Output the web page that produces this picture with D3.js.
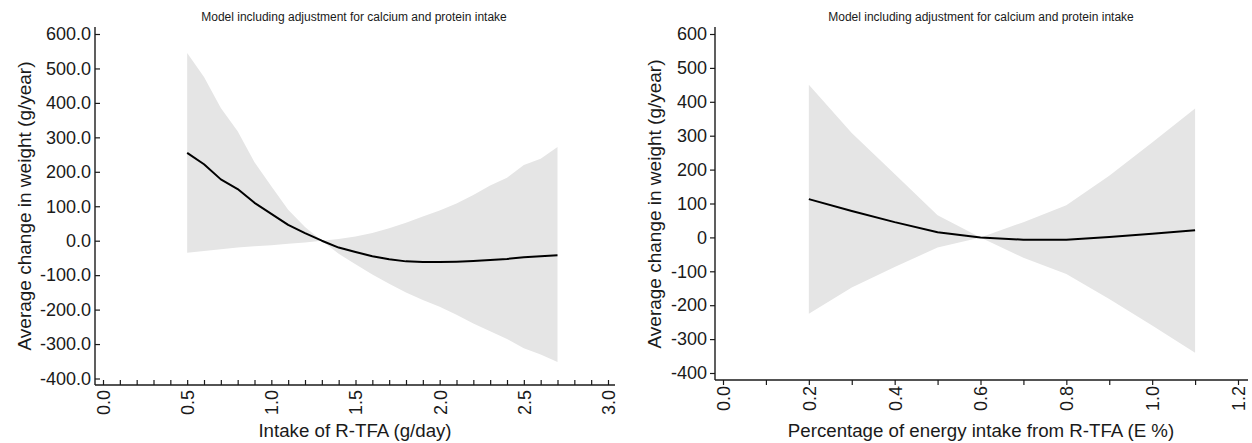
<!DOCTYPE html>
<html>
<head>
<meta charset="utf-8">
<script src="https://cdn.jsdelivr.net/npm/d3@7"></script>
<style>
  html, body { margin: 0; padding: 0; background: #fff; }
  svg { display: block; font-family: "Liberation Sans", Arial, Helvetica, sans-serif; }
</style>
</head>
<body>
<div id="chart"></div>
<script>
// Spline curves with 95% CI, two panels

// --- left panel: intake of R-TFA (g/day)
const leftX     = [0.5, 0.6, 0.7, 0.8, 0.9, 1.0, 1.1, 1.2, 1.3, 1.4, 1.5, 1.6, 1.7, 1.8, 1.9, 2.0, 2.1, 2.2, 2.3, 2.4, 2.5, 2.6, 2.7];
const leftMid   = [255, 222, 178, 150, 110, 78, 46, 22, 0, -20, -33, -45, -54, -60, -62, -62, -61, -59, -56, -53, -48, -45, -42];
const leftUpper = [545, 475, 385, 318, 228, 158, 90, 40, 0, 5, 12, 22, 36, 52, 70, 88, 108, 133, 160, 183, 220, 238, 272];
const leftLower = [-35, -30, -25, -20, -16, -13, -9, -5, 0, -38, -68, -98, -125, -150, -172, -192, -215, -240, -263, -285, -312, -330, -352];

// --- right panel: energy % from R-TFA
const rightX     = [0.2, 0.3, 0.4, 0.5, 0.6, 0.7, 0.8, 0.9, 1.0, 1.1];
const rightMid   = [113, 78, 45, 15, 0, -7, -7, 1, 11, 21];
const rightUpper = [450, 308, 187, 65, 0, 45, 95, 182, 280, 380];
const rightLower = [-225, -148, -87, -30, 0, -60, -108, -182, -260, -340];

// ticks
const yTicks        = [-400, -300, -200, -100, 0, 100, 200, 300, 400, 500, 600];
const leftXTicks    = d3.range(0, 31).map(i => i / 10);
const leftXLabels   = [0, 0.5, 1.0, 1.5, 2.0, 2.5, 3.0];
const rightXTicks   = d3.range(0, 13).map(i => i / 10);
const rightXLabels  = [0, 0.2, 0.4, 0.6, 0.8, 1.0, 1.2];

const TITLE = 'Model including adjustment for calcium and protein intake';
const YLAB  = 'Average change in weight (g/year)';

const W = 1252, H = 443;
const INK = '#1a1a1a';
const BAND = '#e5e5e5';

const svg = d3.select('#chart').append('svg')
  .attr('width', W).attr('height', H);

function panel(o) {
  const x = d3.scaleLinear().domain(o.xDomain).range(o.xRange);
  const y = d3.scaleLinear().domain([-400, 600]).range(o.yRange);
  const g = svg.append('g');
  const pts = o.xs.map((v, i) => ({ x: v, m: o.mid[i], u: o.up[i], l: o.lo[i] }));

  // CI band
  g.append('path')
    .attr('fill', BAND)
    .attr('d', d3.area().x(d => x(d.x)).y0(d => y(d.l)).y1(d => y(d.u))(pts));

  // estimate
  g.append('path')
    .attr('fill', 'none')
    .attr('stroke', '#000')
    .attr('stroke-width', 2)
    .attr('stroke-linejoin', 'round')
    .attr('d', d3.line().x(d => x(d.x)).y(d => y(d.m))(pts));

  const tk = o.inward ? -5 : 5;

  // y axis
  const ya = g.append('g')
    .attr('transform', `translate(${o.axisX},0)`)
    .call(d3.axisLeft(y).tickValues(yTicks).tickSize(tk).tickPadding(o.inward ? 4 : 3).tickFormat(o.yFmt));
  ya.select('.domain').remove();

  // x axis
  const xa = g.append('g')
    .attr('transform', `translate(0,${o.axisY})`)
    .call(d3.axisBottom(x).tickValues(o.xTicks).tickSize(tk)
      .tickFormat(d => o.xLabels.some(v => Math.abs(v - d) < 1e-9) ? d.toFixed(1) : ''));
  xa.select('.domain').remove();
  xa.selectAll('text')
    .attr('transform', 'rotate(-90)')
    .attr('text-anchor', 'end')
    .attr('x', o.inward ? -5 : -6)
    .attr('y', 0)
    .attr('dy', '0.36em');

  [ya, xa].forEach(a => {
    a.selectAll('line').attr('stroke', INK).attr('stroke-width', 1.2);
    a.selectAll('text').attr('fill', INK).attr('font-size', 18)
      .attr('font-family', '"Liberation Sans", Arial, sans-serif');
  });

  // axis lines
  g.append('line')
    .attr('x1', o.axisX).attr('x2', o.axisX)
    .attr('y1', 27).attr('y2', o.axisY)
    .attr('stroke', INK).attr('stroke-width', 1.4);
  g.append('line')
    .attr('x1', o.axisX).attr('x2', o.xEnd)
    .attr('y1', o.axisY).attr('y2', o.axisY)
    .attr('stroke', INK).attr('stroke-width', 1.4);

  // texts
  g.append('text')
    .attr('x', o.titleX).attr('y', 21)
    .attr('text-anchor', 'middle')
    .attr('font-size', 12).attr('fill', INK)
    .text(TITLE);
  g.append('text')
    .attr('transform', `translate(${o.yLabX},${o.yLabY}) rotate(-90)`)
    .attr('text-anchor', 'middle')
    .attr('font-size', 19).attr('fill', INK)
    .text(YLAB);
  g.append('text')
    .attr('x', o.xLabCX).attr('y', 437)
    .attr('text-anchor', 'middle')
    .attr('font-size', 18.7).attr('fill', INK)
    .text(o.xLab);
}

panel({
  xs: leftX, mid: leftMid, up: leftUpper, lo: leftLower,
  xDomain: [0, 3], xRange: [103, 608], yRange: [378.5, 34],
  axisX: 95, axisY: 385, xEnd: 615, inward: true,
  xTicks: leftXTicks, xLabels: leftXLabels,
  yFmt: d => d.toFixed(1),
  titleX: 354, yLabX: 31, yLabY: 206, xLabCX: 355,
  xLab: 'Intake of R-TFA (g/day)'
});

panel({
  xs: rightX, mid: rightMid, up: rightUpper, lo: rightLower,
  xDomain: [0, 1.2], xRange: [723, 1238], yRange: [373, 34],
  axisX: 715, axisY: 380, xEnd: 1248, inward: false,
  xTicks: rightXTicks, xLabels: rightXLabels,
  yFmt: d => String(d),
  titleX: 981, yLabX: 661, yLabY: 204, xLabCX: 981,
  xLab: 'Percentage of energy intake from R-TFA (E %)'
});
</script>
</body>
</html>
